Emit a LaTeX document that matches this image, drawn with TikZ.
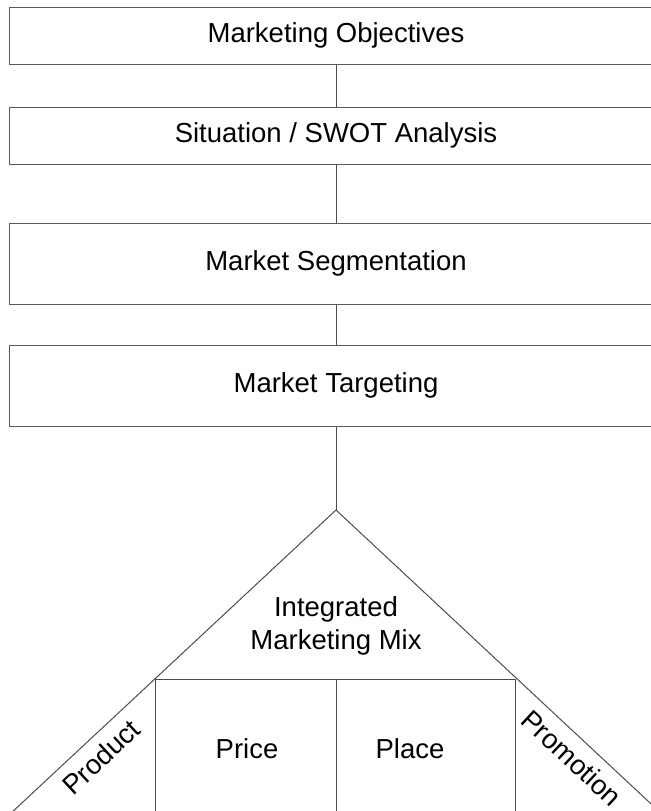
\documentclass[tikz,border=0pt]{standalone}
\usepackage{fontspec}
\setmainfont{Liberation Sans}
\usepackage{tikz}

\begin{document}
\begin{tikzpicture}[x=0.5pt, y=-0.5pt,
        word/.style={text=black,inner sep=0pt,align=center,
      font=\fontsize{13.75}{16.5}\selectfont},
        stage/.style={word,rectangle,draw=black!65,line width=0.5pt,
      minimum width=326pt,minimum height=28.5pt},
        tallstage/.style={stage,minimum height=40.5pt},
        link/.style={line width=0.5pt,black!70}]

	\useasboundingbox (0,0) rectangle (651,811);

	\node [stage] (obj) at (336, 35.5)          {Marketing Objectives};
        \node [stage] (swot) at (336, 135.5)        {Situation / SWOT Analysis};
        \node [tallstage] (seg) at (336, 263.5)     {Market Segmentation};
        \node [tallstage] (tgt) at (336, 385.5)     {Market Targeting};

        \coordinate (apex) at (336, 510);
        \coordinate (mixL) at (155, 679);
        \coordinate (mixM) at (336, 679);
        \coordinate (mixR) at (515, 679);
        \coordinate (footL) at (9, 815);
        \coordinate (footR) at (663, 815);
        \coordinate (downL) at (155, 815);
        \coordinate (downM) at (336, 815);
        \coordinate (downR) at (515, 815);

        \node [word] (mix) at (336, 626)            {Integrated\\Marketing Mix};
        \node [word] (price) at (247, 749)          {Price};
        \node [word] (place) at (410, 749)          {Place};
        \node [word,rotate=43] (product) at (101, 757)    {Product};
        \node [word,rotate=-43] (promotion) at (572, 758) {Promotion};

        \path [link] (obj) edge (swot);
        \path [link] (swot) edge (seg);
        \path [link] (seg) edge (tgt);
        \path [link] (tgt) edge (apex);
        \path [link] (apex) edge (footL);
        \path [link] (apex) edge (footR);
        \path [link] (mixL) edge (mixR);
        \path [link] (mixL) edge (downL);
        \path [link] (mixM) edge (downM);
        \path [link] (mixR) edge (downR);
\end{tikzpicture}
\end{document}
